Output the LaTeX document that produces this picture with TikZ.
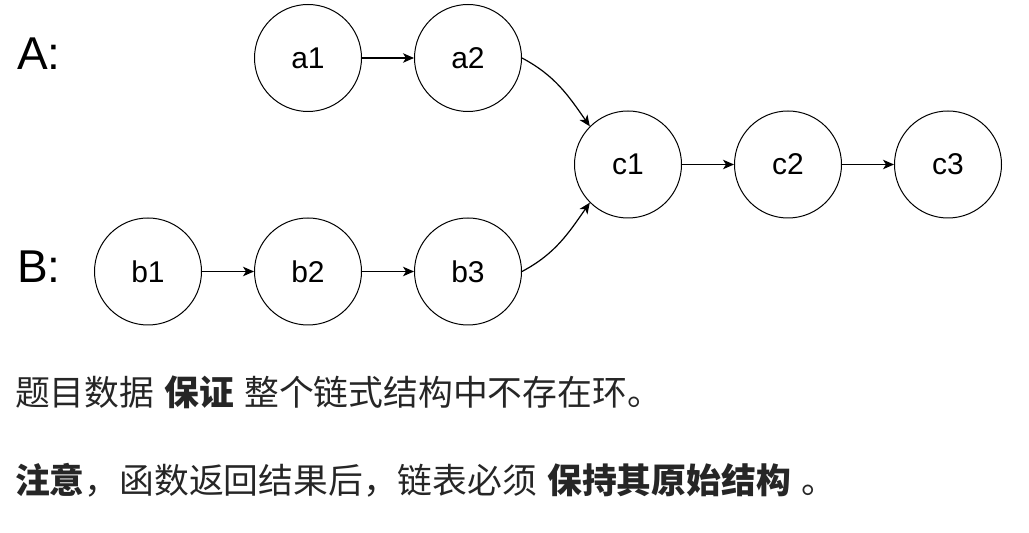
\documentclass[tikz,border=0pt]{standalone}
\usepackage{fontspec}
\setmainfont{Liberation Sans}
\newfontfamily\cjk{Noto Sans CJK SC}
\usetikzlibrary{arrows.meta}
\newcommand{\gapsp}{\hspace{10.2pt}}
\definecolor{bodytext}{RGB}{38,38,38}
\begin{document}
\begin{tikzpicture}[x=1pt,y=1pt,
  lnode/.style={circle,draw=black,line width=1pt,minimum size=107pt,inner sep=0pt,font=\fontsize{30}{30}\selectfont},
  arr/.style={-{Stealth[length=11pt,width=9.5pt,inset=3pt]},line width=1.2pt},
  biglabel/.style={anchor=west,inner sep=0pt,font=\fontsize{46}{46}\selectfont},
  cjkline/.style={anchor=base west,inner sep=0pt,text=bodytext,font=\cjk\fontsize{34.8}{34.8}\selectfont}]
\useasboundingbox (0,0) rectangle (1029,533);
\node[biglabel] (la) at (17,479.5) {A:};
\node[biglabel] (lb) at (17,266.5) {B:};
\node[lnode] (a1) at (308,475) {a1};
\node[lnode] (a2) at (468,475) {a2};
\node[lnode] (c1) at (628,368.5) {c1};
\node[lnode] (c2) at (788,368.5) {c2};
\node[lnode] (c3) at (948,368.5) {c3};
\node[lnode] (b1) at (148,261.5) {b1};
\node[lnode] (b2) at (308,261.5) {b2};
\node[lnode] (b3) at (468,261.5) {b3};
\draw[arr] (a1) -- (a2);
\draw[arr] (b1) -- (b2);
\draw[arr] (b2) -- (b3);
\draw[arr] (c1) -- (c2);
\draw[arr] (c2) -- (c3);
\draw[arr] (a2.east) to[out=-28,in=125] (c1.135);
\draw[arr] (b3.east) to[out=28,in=-125] (c1.225);
\node[cjkline] (t1) at (15,127) {题目数据\gapsp\textbf{保证}\gapsp 整个链式结构中不存在环。};
\node[cjkline] (t2) at (15,39) {\textbf{注意}，函数返回结果后，链表必须\gapsp\textbf{保持其原始结构}\gapsp 。};
\end{tikzpicture}
\end{document}
